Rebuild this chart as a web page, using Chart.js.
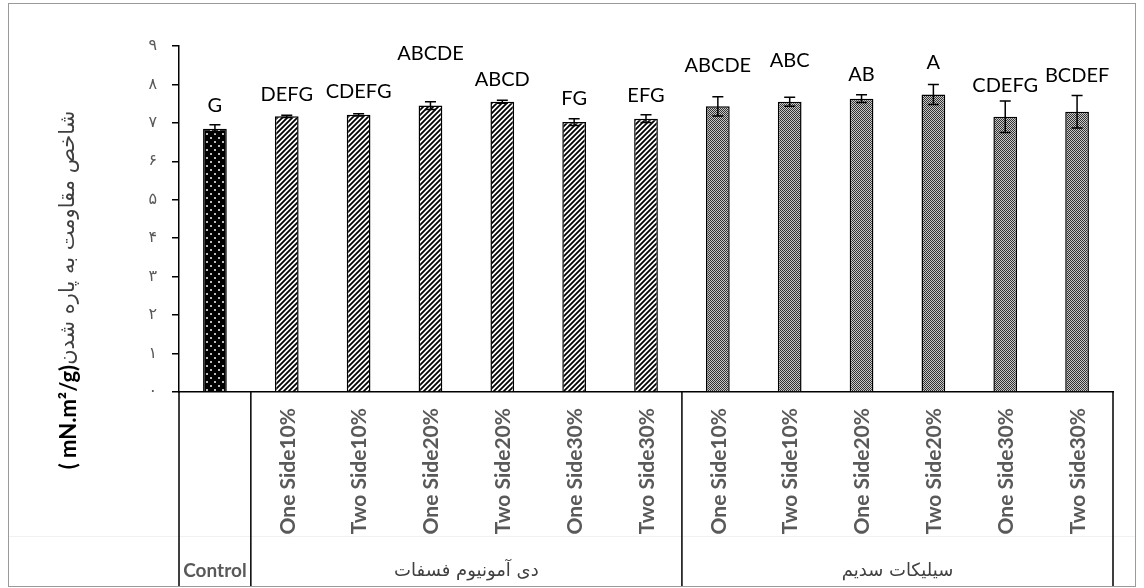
<!DOCTYPE html>
<html>
<head>
<meta charset="utf-8">
<script src="https://cdn.jsdelivr.net/npm/chart.js@4"></script>
<style>
  body { margin: 0; background: #fff; }
  canvas { display: block; }
</style>
</head>
<body>
<canvas id="tear-chart" width="1144" height="588"></canvas>
<script>
const categories = ['Control',
	'One Side10%', 'Two Side10%', 'One Side20%', 'Two Side20%', 'One Side30%', 'Two Side30%',
	'One Side10%', 'Two Side10%', 'One Side20%', 'Two Side20%', 'One Side30%', 'Two Side30%']
const means = [6.85, 7.17, 7.21, 7.45, 7.55, 7.02, 7.11, 7.43, 7.55, 7.63, 7.74, 7.16, 7.29]
const errors = [0.10, 0.03, 0.03, 0.10, 0.04, 0.09, 0.10, 0.25, 0.12, 0.10, 0.26, 0.41, 0.42]
const letters = ['G', 'DEFG', 'CDEFG', 'ABCDE', 'ABCD', 'FG', 'EFG', 'ABCDE', 'ABC', 'AB', 'A', 'CDEFG', 'BCDEF']
const groupNames = ['دی آمونیوم فسفات', 'سیلیکات سدیم']
const groupOf = [-1, 0, 0, 0, 0, 0, 0, 1, 1, 1, 1, 1, 1]
const yTickLabels = ['۰', '۱', '۲', '۳', '۴', '۵', '۶', '۷', '۸', '۹']

// how far above each error bar its letters sit (px)
const labelLift = [19, 21, 22, 48, 21, 20, 19, 31, 37, 20, 22, 15, 20]

const makeTile = (size, draw) => {
	const c = document.createElement('canvas')
	c.width = size
	c.height = size
	draw(c.getContext('2d'), size)
	return document.getElementById('tear-chart').getContext('2d').createPattern(c, 'repeat')
}

const dotted = makeTile(8, (g, s) => {
	g.fillStyle = '#000'
	g.fillRect(0, 0, s, s)
	g.fillStyle = '#bdbdbd'
	g.fillRect(2, 1, 2, 2)
	g.fillRect(6, 5, 2, 2)
})

const hatched = makeTile(5, (g, s) => {
	g.fillStyle = '#fff'
	g.fillRect(0, 0, s, s)
	g.strokeStyle = '#000'
	g.lineWidth = 1.8
	g.beginPath()
	g.moveTo(0, s); g.lineTo(s, 0)
	g.moveTo(-1, 1); g.lineTo(1, -1)
	g.moveTo(s - 1, s + 1); g.lineTo(s + 1, s - 1)
	g.stroke()
})

const checker = makeTile(2, (g) => {
	g.fillStyle = '#c8c8c8'
	g.fillRect(0, 0, 2, 2)
	g.fillStyle = '#333'
	g.fillRect(0, 0, 1, 1)
	g.fillRect(1, 1, 1, 1)
})

const fills = groupOf.map((gr) => gr < 0 ? dotted : (gr == 0 ? hatched : checker))

const decorations = {
	id: 'decorations',
	beforeDraw: (chart) => {
		const ctx = chart.ctx
		ctx.save()
		ctx.fillStyle = '#fff'
		ctx.fillRect(0, 0, chart.width, chart.height)
		ctx.restore()
	},
	afterDatasetsDraw: (chart) => {
		const ctx = chart.ctx
		const x = chart.scales.x
		const y = chart.scales.y
		const area = chart.chartArea
		ctx.save()

		// error bars
		ctx.strokeStyle = '#000'
		ctx.lineWidth = 1.5
		means.forEach((m, i) => {
			const px = x.getPixelForValue(i)
			const top = y.getPixelForValue(m + errors[i])
			const bot = y.getPixelForValue(m - errors[i])
			ctx.beginPath()
			ctx.moveTo(px, top); ctx.lineTo(px, bot)
			ctx.moveTo(px - 5.5, top); ctx.lineTo(px + 5.5, top)
			ctx.moveTo(px - 5.5, bot); ctx.lineTo(px + 5.5, bot)
			ctx.stroke()
		})

		// significance letters
		ctx.fillStyle = '#000'
		ctx.font = '20px Lato'
		ctx.textAlign = 'center'
		ctx.textBaseline = 'middle'
		letters.forEach((t, i) => {
			const px = x.getPixelForValue(i)
			const top = y.getPixelForValue(means[i] + errors[i])
			ctx.fillText(t, px, top - labelLift[i])
		})

		// faint line in the label table
		ctx.strokeStyle = '#f1f1f1'
		ctx.lineWidth = 1
		ctx.beginPath()
		ctx.moveTo(9, 536.5); ctx.lineTo(1135, 536.5)
		ctx.stroke()

		// group boxes under the axis
		const bottom = 587
		const edge = (i) => (x.getPixelForValue(i) + x.getPixelForValue(i + 1)) / 2
		const splits = [area.left, edge(0), edge(6), area.right]
		ctx.strokeStyle = '#000'
		ctx.lineWidth = 1.5
		ctx.beginPath()
		splits.forEach((sx) => { ctx.moveTo(sx, area.bottom); ctx.lineTo(sx, bottom) })
		ctx.stroke()

		// rotated treatment labels
		ctx.fillStyle = '#595959'
		ctx.font = 'bold 21px Lato'
		ctx.textAlign = 'right'
		ctx.textBaseline = 'middle'
		categories.forEach((c, i) => {
			if (i == 0) return
			ctx.save()
			ctx.translate(x.getPixelForValue(i) + 1, area.bottom + 16)
			ctx.rotate(-Math.PI / 2)
			ctx.fillText(c, 0, 0)
			ctx.restore()
		})

		// control label
		ctx.font = 'bold 19px Lato'
		ctx.textAlign = 'center'
		ctx.textBaseline = 'alphabetic'
		ctx.fillText(categories[0], (splits[0] + splits[1]) / 2, 577)

		// group names
		ctx.fillStyle = '#404040'
		ctx.font = '18px "DejaVu Sans"'
		ctx.textBaseline = 'middle'
		ctx.fillText(groupNames[0], (splits[1] + splits[2]) / 2, 571)
		ctx.fillText(groupNames[1], (splits[2] + splits[3]) / 2, 571)

		// y axis title, rotated, latin unit first then persian words
		ctx.save()
		ctx.translate(69, 290)
		ctx.rotate(-Math.PI / 2)
		const unit = '( mN.m²/g)'
		const words = 'شاخص مقاومت به پاره شدن'
		ctx.font = 'bold 22px Lato'
		const wu = ctx.measureText(unit).width
		ctx.font = '21px "DejaVu Sans"'
		const ww = ctx.measureText(words).width
		const start = -(wu + ww) / 2
		ctx.textAlign = 'left'
		ctx.textBaseline = 'middle'
		ctx.font = 'bold 22px Lato'
		ctx.fillStyle = '#000'
		ctx.fillText(unit, start, 0)
		ctx.font = '21px "DejaVu Sans"'
		ctx.fillStyle = '#404040'
		ctx.fillText(words, start + wu, 0)
		ctx.restore()

		// outer frame
		ctx.strokeStyle = '#9a9a9a'
		ctx.lineWidth = 1
		ctx.strokeRect(8.5, 3.5, 1127, 583)
		ctx.restore()
	}
}

const config = {
	type: 'bar',
	data: {
		labels: categories,
		datasets: [{
			data: means,
			backgroundColor: fills,
			borderColor: '#000',
			borderWidth: 1.5,
			barPercentage: 0.33,
			categoryPercentage: 1
		}]
	},
	options: {
		responsive: false,
		animation: false,
		layout: { padding: { left: 0, top: 46, right: 31, bottom: 0 } },
		plugins: {
			legend: { display: false },
			tooltip: { enabled: false }
		},
		scales: {
			x: {
				grid: { display: false },
				border: { display: true, color: '#000', width: 1.5 },
				ticks: { display: false },
				afterFit: (scale) => { scale.height = 196 }
			},
			y: {
				min: 0,
				max: 9,
				grid: { display: true, drawOnChartArea: false, tickLength: 7, color: '#000', lineWidth: 1.5 },
				border: { display: true, color: '#000', width: 1.5 },
				ticks: {
					stepSize: 1,
					padding: 15,
					color: '#595959',
					font: { family: 'DejaVu Sans', size: 16 },
					callback: (v) => yTickLabels[v]
				},
				afterFit: (scale) => { scale.width = 179 }
			}
		}
	},
	plugins: [decorations]
}

const ctx = document.querySelector('#tear-chart').getContext('2d')
const tearChart = new Chart(ctx, config)
</script>
</body>
</html>
